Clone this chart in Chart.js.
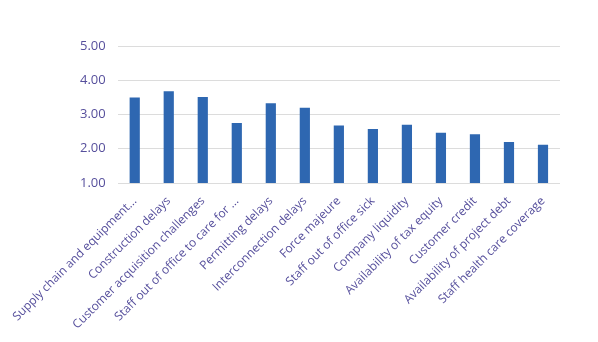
<!DOCTYPE html>
<html>
<head>
<meta charset="utf-8">
<script src="https://cdn.jsdelivr.net/npm/chart.js@4"></script>
<style>
  html, body { margin: 0; padding: 0; background: #fff; }
  #wrap { width: 598px; height: 342px; }
</style>
</head>
<body>
<div id="wrap"><canvas id="myChart"></canvas></div>
<script>
// BAR CHART

var xValues = [
  "Supply chain and equipment...",
  "Construction delays",
  "Customer acquisition challenges",
  "Staff out of office to care for ...",
  "Permitting delays",
  "Interconnection delays",
  "Force majeure",
  "Staff out of office sick",
  "Company liquidity",
  "Availability of tax equity",
  "Customer credit",
  "Availability of project debt",
  "Staff health care coverage"
];
var yValues = [3.50, 3.68, 3.51, 2.75, 3.33, 3.20, 2.68, 2.58, 2.70, 2.47, 2.42, 2.20, 2.12];
var yTicks = [1, 2, 3, 4, 5];
var barColor = "#2e67b1";
var textColor = "#564f9c";

new Chart("myChart", {
  type: "bar",
  data: {
    labels: xValues,
    datasets: [{
      backgroundColor: barColor,
      data: yValues,
      barPercentage: 0.6,
      categoryPercentage: 0.5
    }]
  },
  options: {
    responsive: true,
    maintainAspectRatio: false,
    animation: false,
    layout: { padding: { top: 46, right: 38, bottom: 0, left: 68 } },
    plugins: {
      legend: { display: false },
      tooltip: { enabled: false }
    },
    scales: {
      x: {
        grid: { display: false },
        border: { display: false },
        afterFit: function (axis) { axis.height = 159; },
        ticks: {
          color: textColor,
          font: { family: "Open Sans", size: 12 },
          minRotation: 45,
          maxRotation: 45,
          autoSkip: false,
          padding: 3
        }
      },
      y: {
        min: yTicks[0],
        max: yTicks[yTicks.length - 1],
        grid: { color: "#dcdcdc", lineWidth: 1, drawTicks: false },
        border: { display: false },
        afterBuildTicks: function (axis) {
          axis.ticks = yTicks.map(function (v) { return { value: v }; });
        },
        ticks: {
          color: textColor,
          font: { family: "Open Sans", size: 13 },
          padding: 12,
          callback: function (v) { return Number(v).toFixed(2); }
        }
      }
    }
  }
});
</script>
</body>
</html>
